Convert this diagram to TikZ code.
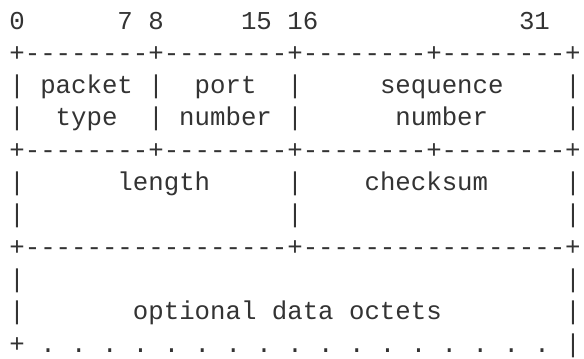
\documentclass[tikz,border=0pt]{standalone}
\usepackage{fontspec}
\setmonofont{Liberation Mono}
\definecolor{ink}{HTML}{333333}
\newcommand\gap[1]{\kern#1\fontcharwd\font`0\relax}
\tikzset{
  row/.style={anchor=base west, inner sep=0pt, outer sep=0pt, text=ink,
    font=\ttfamily\fontsize{19.3pt}{24pt}\selectfont\frenchspacing}
}
\begin{document}
\begin{tikzpicture}[x=0.75pt,y=0.75pt]
\fill[white] (0,0) rectangle (584,358);
\useasboundingbox (0,0) rectangle (584,358);
\def\bx{9.4}
\def\by{329}
\def\dy{32.33}
\node[row] (r0)  at (\bx,{\by-\dy*0})  {0\gap{6}7\gap{1}8\gap{5}15\gap{1}16\gap{13}31};
\node[row] (r1)  at (\bx,{\by-\dy*1})  {+--------+--------+--------+--------+};
\node[row] (r2)  at (\bx,{\by-\dy*2})  {|\gap{1}packet\gap{1}|\gap{2}port\gap{2}|\gap{5}sequence\gap{4}|};
\node[row] (r3)  at (\bx,{\by-\dy*3})  {|\gap{2}type\gap{2}|\gap{1}number\gap{1}|\gap{6}number\gap{5}|};
\node[row] (r4)  at (\bx,{\by-\dy*4})  {+--------+--------+--------+--------+};
\node[row] (r5)  at (\bx,{\by-\dy*5})  {|\gap{6}length\gap{5}|\gap{4}checksum\gap{5}|};
\node[row] (r6)  at (\bx,{\by-\dy*6})  {|\gap{17}|\gap{17}|};
\node[row] (r7)  at (\bx,{\by-\dy*7})  {+-----------------+-----------------+};
\node[row] (r8)  at (\bx,{\by-\dy*8})  {|\gap{35}|};
\node[row] (r9)  at (\bx,{\by-\dy*9})  {|\gap{7}optional data octets\gap{8}|};
\node[row] (r10) at (\bx,{\by-\dy*10}) {+ . . . . . . . . . . . . . . . . .\gap{1}|};
\end{tikzpicture}
\end{document}
